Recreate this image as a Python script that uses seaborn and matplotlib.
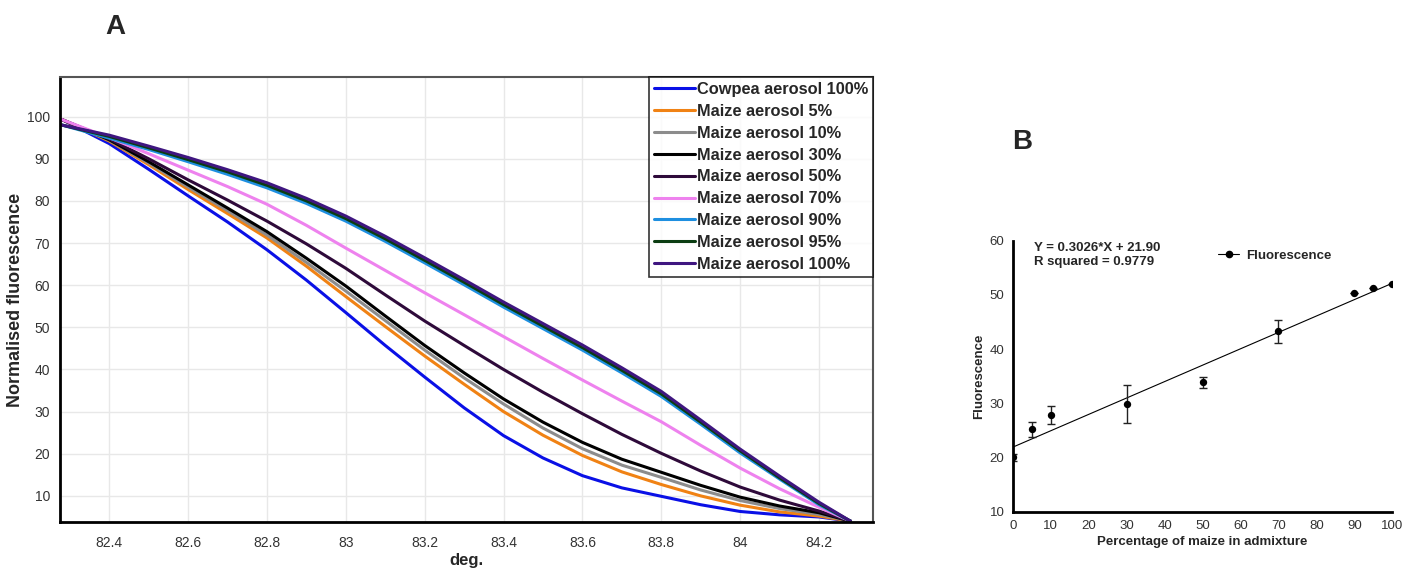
import numpy as np
import pandas as pd
import matplotlib
matplotlib.use('Agg')
import matplotlib.pyplot as plt
import seaborn as sns
from matplotlib.lines import Line2D

# ---- panel A: melt curves (normalised fluorescence vs temperature) ----
deg = [82.28, 82.4, 82.5, 82.6, 82.7, 82.8, 82.9, 83.0, 83.1, 83.2, 83.3,
       83.4, 83.5, 83.6, 83.7, 83.8, 83.9, 84.0, 84.1, 84.2, 84.28]

cowpea_100 = [99.3, 93.6, 87.5, 81.2, 75.0, 68.4, 61.2, 53.5, 45.7, 38.2, 30.9,
              24.3, 19.0, 14.8, 11.9, 9.9, 7.9, 6.3, 5.5, 5.0, 4.0]
maize_5 = [99.3, 94.2, 88.6, 82.7, 77.0, 71.2, 64.5, 57.3, 50.2, 43.2, 36.5,
           30.0, 24.4, 19.6, 15.7, 12.7, 10.0, 7.8, 6.2, 5.2, 4.0]
maize_10 = [99.3, 94.4, 89.0, 83.3, 77.7, 71.9, 65.4, 58.6, 51.6, 44.6, 38.0,
            31.8, 26.1, 21.2, 17.3, 14.4, 11.4, 8.9, 7.0, 5.6, 4.0]
maize_30 = [99.3, 94.5, 89.3, 83.8, 78.3, 72.7, 66.4, 59.8, 52.7, 45.7, 39.2,
            33.0, 27.5, 22.7, 18.7, 15.6, 12.5, 9.7, 7.6, 6.0, 4.0]
maize_50 = [99.3, 94.7, 90.0, 85.0, 80.2, 75.2, 69.8, 64.0, 57.7, 51.5, 45.7,
            40.0, 34.6, 29.5, 24.6, 20.1, 15.9, 12.1, 9.0, 6.4, 4.0]
maize_70 = [99.3, 95.0, 91.2, 87.3, 83.4, 79.2, 74.2, 68.8, 63.5, 58.2, 53.0,
            47.8, 42.6, 37.5, 32.5, 27.6, 22.0, 16.6, 11.7, 7.3, 4.0]
maize_90 = [98.0, 94.9, 92.2, 89.3, 86.3, 83.1, 79.4, 75.2, 70.4, 65.3, 60.1,
            54.8, 49.7, 44.6, 39.2, 33.6, 27.0, 20.2, 14.0, 7.9, 4.0]
maize_95 = [98.0, 95.3, 92.6, 89.8, 86.9, 83.7, 80.0, 75.8, 71.0, 65.9, 60.7,
            55.4, 50.3, 45.2, 39.8, 34.2, 27.5, 20.7, 14.3, 8.2, 4.0]
maize_100 = [98.0, 95.6, 93.0, 90.3, 87.4, 84.3, 80.6, 76.4, 71.6, 66.5, 61.3,
             56.0, 50.9, 45.8, 40.4, 34.8, 28.0, 21.1, 14.7, 8.5, 4.0]

sample_names = ['Cowpea aerosol 100%', 'Maize aerosol 5%', 'Maize aerosol 10%',
                'Maize aerosol 30%', 'Maize aerosol 50%', 'Maize aerosol 70%',
                'Maize aerosol 90%', 'Maize aerosol 95%', 'Maize aerosol 100%']
sample_colors = ['#0a10e6', '#f08214', '#8c8c8c', '#000000', '#2e0a3a',
                 '#ee82ee', '#1e8fe0', '#0b3d12', '#3f1680']

# ---- panel B: fluorescence vs maize percentage ----
maize_pct = [0, 5, 10, 30, 50, 70, 90, 95, 100]
fluor = [20.0, 25.2, 27.8, 29.9, 33.9, 43.3, 50.4, 51.3, 52.1]
fluor_err = [0.6, 1.4, 1.7, 3.5, 1.0, 2.1, 0, 0, 0]
fit_slope = 0.3026
fit_intercept = 21.90

sns.set_style('white')
plt.rcParams['font.family'] = ['Liberation Sans', 'DejaVu Sans']

fig = plt.figure(figsize=(14.14, 5.7), dpi=100)

# ================= A =================
axA = fig.add_axes([0.0424, 0.0842, 0.575, 0.7807])
curves = pd.DataFrame({'deg': deg * 9,
                       'value': cowpea_100 + maize_5 + maize_10 + maize_30 + maize_50
                       + maize_70 + maize_90 + maize_95 + maize_100,
                       'sample': [n for n in sample_names for _ in deg]})
sns.lineplot(data=curves, x='deg', y='value', hue='sample', hue_order=sample_names,
             palette=dict(zip(sample_names, sample_colors)), linewidth=2.2, ax=axA,
             legend=False)

axA.set_xlim(82.275, 84.337)
axA.set_ylim(3.8, 109.4)
axA.set_xticks(np.arange(82.4, 84.21, 0.2))
axA.set_xticklabels(['82.4', '82.6', '82.8', '83', '83.2', '83.4', '83.6', '83.8', '84', '84.2'])
axA.set_yticks(range(10, 101, 10))
axA.grid(True, color='#e8e8e8', linewidth=1.0)
axA.tick_params(axis='both', direction='out', length=4, width=1, colors='#333333',
                labelsize=10, pad=6)
axA.tick_params(axis='y', pad=3)
for s in ['left', 'bottom']:
    axA.spines[s].set_color('black')
    axA.spines[s].set_linewidth(2)
for s in ['top', 'right']:
    axA.spines[s].set_color('#555555')
    axA.spines[s].set_linewidth(1.5)
axA.set_xlabel('deg.', fontsize=12, fontweight='bold', labelpad=2)
axA.set_ylabel('Normalised fluorescence', fontsize=13, fontweight='bold', labelpad=2)

handles = [Line2D([], [], color=c, lw=2.2) for c in sample_colors]
legA = axA.legend(handles, sample_names, loc='upper right', bbox_to_anchor=(1.0, 1.0),
                  borderaxespad=0.0, frameon=True, fancybox=False, handlelength=2.5,
                  handletextpad=0.1, labelspacing=0.42, borderpad=0.3,
                  prop={'weight': 'bold', 'size': 11.8})
legA.get_frame().set_edgecolor('black')
legA.get_frame().set_linewidth(1.2)

# ================= B =================
axB = fig.add_axes([0.7162, 0.1023, 0.2685, 0.4754])
xs = np.array([0, 100])
axB.plot(xs, fit_slope * xs + fit_intercept, color='black', lw=0.8)
axB.errorbar(maize_pct, fluor, yerr=fluor_err, fmt='none', ecolor='#222222',
             elinewidth=1.0, capsize=3, capthick=1.0)
sns.scatterplot(x=maize_pct, y=fluor, color='black', s=28, edgecolor='black',
                linewidth=0, ax=axB, zorder=3)

axB.set_xlim(0, 100)
axB.set_ylim(10, 60)
axB.set_xticks(range(0, 101, 10))
axB.set_yticks(range(10, 61, 10))
sns.despine(ax=axB)
for s in ['left', 'bottom']:
    axB.spines[s].set_linewidth(2)
    axB.spines[s].set_color('black')
axB.tick_params(axis='both', direction='out', length=4, width=1.5, colors='black',
                labelsize=9.5, labelcolor='#333333', pad=2)
axB.set_xlabel('Percentage of maize in admixture', fontsize=9.5, fontweight='bold',
               labelpad=3)
axB.set_ylabel('Fluorescence', fontsize=9.5, fontweight='bold', labelpad=3)

axB.text(0.055, 0.995, 'Y = 0.3026*X + 21.90\nR squared = 0.9779',
         transform=axB.transAxes, ha='left', va='top', fontsize=9.5,
         fontweight='bold', linespacing=1.25)
legB = axB.legend([Line2D([], [], color='black', lw=0.8, marker='o', markersize=4.5)],
                  ['Fluorescence'], loc='upper left', bbox_to_anchor=(0.51, 1.01),
                  frameon=False, handlelength=1.6, handletextpad=0.5,
                  prop={'weight': 'bold', 'size': 9.5})

# panel letters
fig.text(0.0813, 0.953, 'A', fontsize=20, fontweight='bold', ha='center', va='center')
fig.text(0.7228, 0.751, 'B', fontsize=20, fontweight='bold', ha='center', va='center')

fig.savefig('out.png', dpi=100, facecolor='white')
